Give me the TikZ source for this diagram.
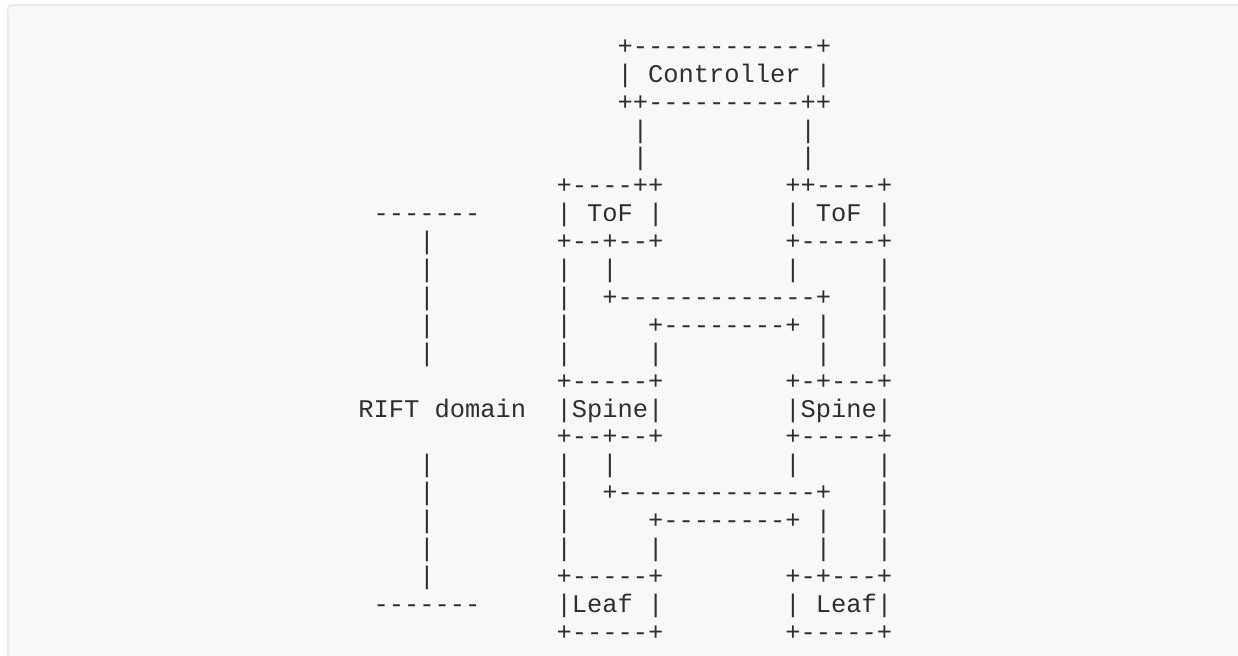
\documentclass[tikz,border=0pt]{standalone}
\usepackage{fontspec}
\setmonofont{Liberation Mono}
\definecolor{panelfill}{HTML}{F8F8F8}
\definecolor{panelrule}{HTML}{EBEBEB}
\definecolor{asciiink}{HTML}{2E2E2E}
\tikzset{
  chars/.style={anchor=base west, inner sep=0pt, outer sep=0pt, text=asciiink,
    font=\ttfamily\fontsize{12.71pt}{15pt}\selectfont,
    xshift=-3.8125pt, yshift=-3.9pt}
}
\begin{document}
\begin{tikzpicture}[x=7.625pt, y=-13.95pt]
\useasboundingbox (-152.5pt,23.25pt) rectangle (466.5pt,-304.25pt);
\clip (-152.5pt,23.25pt) rectangle (466.5pt,-304.25pt);
\fill[white] (-152.5pt,23.25pt) rectangle (466.5pt,-304.25pt);
\filldraw[fill=panelfill, draw=panelrule, line width=1pt, rounded corners=2pt]
  (-148.5pt,20.75pt) rectangle (480pt,-320pt);
% boxes, words and the domain marks
\foreach \r/\c/\t in {
  0/21/{+------------+}, 1/21/|, 1/23/Controller, 1/34/|, 2/21/{++----------++},
  3/22/|, 3/33/|, 4/22/|, 4/33/|,
  5/17/{+----++}, 5/32/{++----+},
  6/5/{-------}, 6/17/|, 6/19/ToF, 6/23/|, 6/32/|, 6/34/ToF, 6/38/|,
  7/17/{+--+--+}, 7/32/{+-----+},
  13/4/{RIFT domain}, 13/17/{|Spine|}, 13/32/{|Spine|},
  14/17/{+--+--+}, 14/32/{+-----+},
  20/5/{-------}, 20/17/{|Leaf}, 20/23/|, 20/32/|, 20/34/{Leaf|},
  21/17/{+-----+}, 21/32/{+-----+}}
  \node[chars] (n\r-\c) at (\c,\r) {\t};
% crossed links below ToF and below Spine
\foreach \o in {0,7}{
  \foreach \r/\c/\t in {8/17/|, 8/20/|, 8/32/|, 8/38/|,
    9/17/|, 9/20/{+-------------+}, 9/38/|,
    10/17/|, 10/23/{+--------+}, 10/34/|, 10/38/|,
    11/17/|, 11/23/|, 11/34/|, 11/38/|,
    12/17/{+-----+}, 12/32/{+-+---+}}{
    \pgfmathtruncatemacro\rr{\r+\o}
    \node[chars] (n\rr-\c) at (\c,\rr) {\t};
  }
}
% bar of the RIFT domain
\foreach \r in {7,8,9,10,11,15,16,17,18,19}
  \node[chars] (bar\r) at (8,\r) {|};
\end{tikzpicture}
\end{document}
